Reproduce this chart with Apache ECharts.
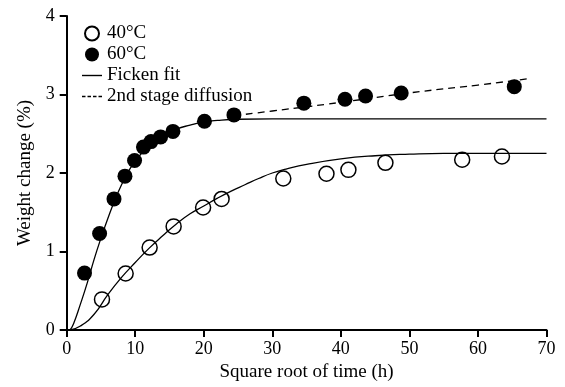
<!DOCTYPE html>
<html>
<head>
<meta charset="utf-8">
<script src="https://cdn.jsdelivr.net/npm/echarts@6/dist/echarts.min.js"></script>
<style>html,body{margin:0;padding:0;background:#fff}#c{width:565px;height:387px}</style>
</head>
<body>
<div id="c"></div>
<script>
// Measured points (x = square root of time, y = weight change %)
var pts40x = [5.15, 8.6, 12.1, 15.6, 19.9, 22.6, 31.6, 37.9, 41.1, 46.5, 57.7, 63.5];
var pts40y = [0.39, 0.72, 1.05, 1.32, 1.56, 1.67, 1.93, 1.99, 2.04, 2.13, 2.17, 2.21];
var pts60x = [2.6, 4.8, 6.9, 8.5, 9.9, 11.2, 12.3, 13.7, 15.5, 20.1, 24.4, 34.6, 40.6, 43.6, 48.8, 65.3];
var pts60y = [0.725, 1.23, 1.67, 1.96, 2.16, 2.33, 2.40, 2.46, 2.53, 2.66, 2.74, 2.89, 2.94, 2.98, 3.02, 3.10];
// Fit curves
var fit60x = [0.5, 1, 2, 3, 4, 5, 6, 7, 8, 9, 10, 11, 12, 13, 14, 16, 18, 20, 22, 25, 30, 70];
var fit60y = [0, 0.08, 0.33, 0.60, 0.90, 1.17, 1.42, 1.65, 1.85, 2.02, 2.15, 2.26, 2.35, 2.42, 2.48, 2.56, 2.61, 2.65, 2.67, 2.685, 2.69, 2.69];
var fit40x = [0.5, 2, 4, 6, 8, 10, 12, 14, 16, 18, 20, 22, 24, 26, 28, 30, 32, 35, 40, 45, 50, 55, 70];
var fit40y = [0, 0.05, 0.2, 0.45, 0.67, 0.86, 1.04, 1.20, 1.35, 1.48, 1.58, 1.68, 1.77, 1.85, 1.93, 2.00, 2.05, 2.11, 2.18, 2.22, 2.24, 2.25, 2.25];
var diffx = [24.4, 30, 40, 50, 60, 67.3];
var diffy = [2.73, 2.79, 2.90, 3.02, 3.12, 3.20];
var xTicks = [0, 10, 20, 30, 40, 50, 60, 70];
var yTicks = [0, 1, 2, 3, 4];

function zip(a, b) { return a.map(function (v, i) { return [v, b[i]]; }); }
var FONT = 'Liberation Serif';
var chart = echarts.init(document.getElementById('c'));
chart.setOption({
  animation: false,
  backgroundColor: '#fff',
  grid: { left: 66.7, right: 18.5, top: 16, bottom: 57 },
  legend: {
    orient: 'vertical', left: 77, top: 19, itemWidth: 20, itemHeight: 14, itemGap: 2,
    textStyle: { fontFamily: FONT, fontSize: 19, color: '#000', padding: [0, 0, 0, 0] },
    data: [
      { name: '40°C' },
      { name: '60°C' },
      { name: 'Ficken fit', icon: 'path://M0,0h20v1.4h-20z' },
      { name: '2nd stage diffusion', icon: 'path://M0,0h3.5v1.6h-3.5z M5.5,0h3.5v1.6h-3.5z M11,0h3.5v1.6h-3.5z M16.5,0h3.5v1.6h-3.5z' }
    ]
  },
  xAxis: {
    type: 'value', min: xTicks[0], max: xTicks[xTicks.length - 1], interval: 10,
    name: 'Square root of time (h)', nameLocation: 'middle', nameGap: 33,
    nameTextStyle: { fontFamily: FONT, fontSize: 19, color: '#000' },
    axisLine: { lineStyle: { color: '#000', width: 2 } },
    axisTick: { inside: false, length: 7, lineStyle: { color: '#000', width: 2 } },
    axisLabel: { fontFamily: FONT, fontSize: 18, color: '#000', margin: 10 },
    splitLine: { show: false }
  },
  yAxis: {
    type: 'value', min: yTicks[0], max: yTicks[yTicks.length - 1], interval: 1,
    name: 'Weight change (%)', nameLocation: 'middle', nameGap: 31, nameRotate: 90,
    nameTextStyle: { fontFamily: FONT, fontSize: 19, color: '#000' },
    axisLine: { show: true, lineStyle: { color: '#000', width: 2 } },
    axisTick: { show: true, inside: false, length: 7, lineStyle: { color: '#000', width: 2 } },
    axisLabel: { fontFamily: FONT, fontSize: 18, color: '#000', margin: 12 },
    splitLine: { show: false }
  },
  series: [
    { name: 'Ficken fit', type: 'line', data: zip(fit60x, fit60y), smooth: true, symbol: 'none',
      lineStyle: { color: '#000', width: 1.3 }, itemStyle: { color: '#000' }, z: 2 },
    { name: 'Ficken fit', type: 'line', data: zip(fit40x, fit40y), smooth: true, symbol: 'none',
      lineStyle: { color: '#000', width: 1.3 }, itemStyle: { color: '#000' }, z: 2 },
    { name: '2nd stage diffusion', type: 'line', data: zip(diffx, diffy), smooth: true, symbol: 'none',
      lineStyle: { color: '#000', width: 1.3, type: [7, 5] }, itemStyle: { color: '#000' }, z: 2 },
    { name: '40°C', type: 'scatter', data: zip(pts40x, pts40y), symbol: 'circle', symbolSize: 15,
      itemStyle: { color: 'rgba(255,255,255,0)', borderColor: '#000', borderWidth: 1.5, opacity: 1 }, z: 3 },
    { name: '60°C', type: 'scatter', data: zip(pts60x, pts60y), symbol: 'circle', symbolSize: 15,
      itemStyle: { color: '#000', opacity: 1 }, z: 4 }
  ]
});
</script>
</body>
</html>
